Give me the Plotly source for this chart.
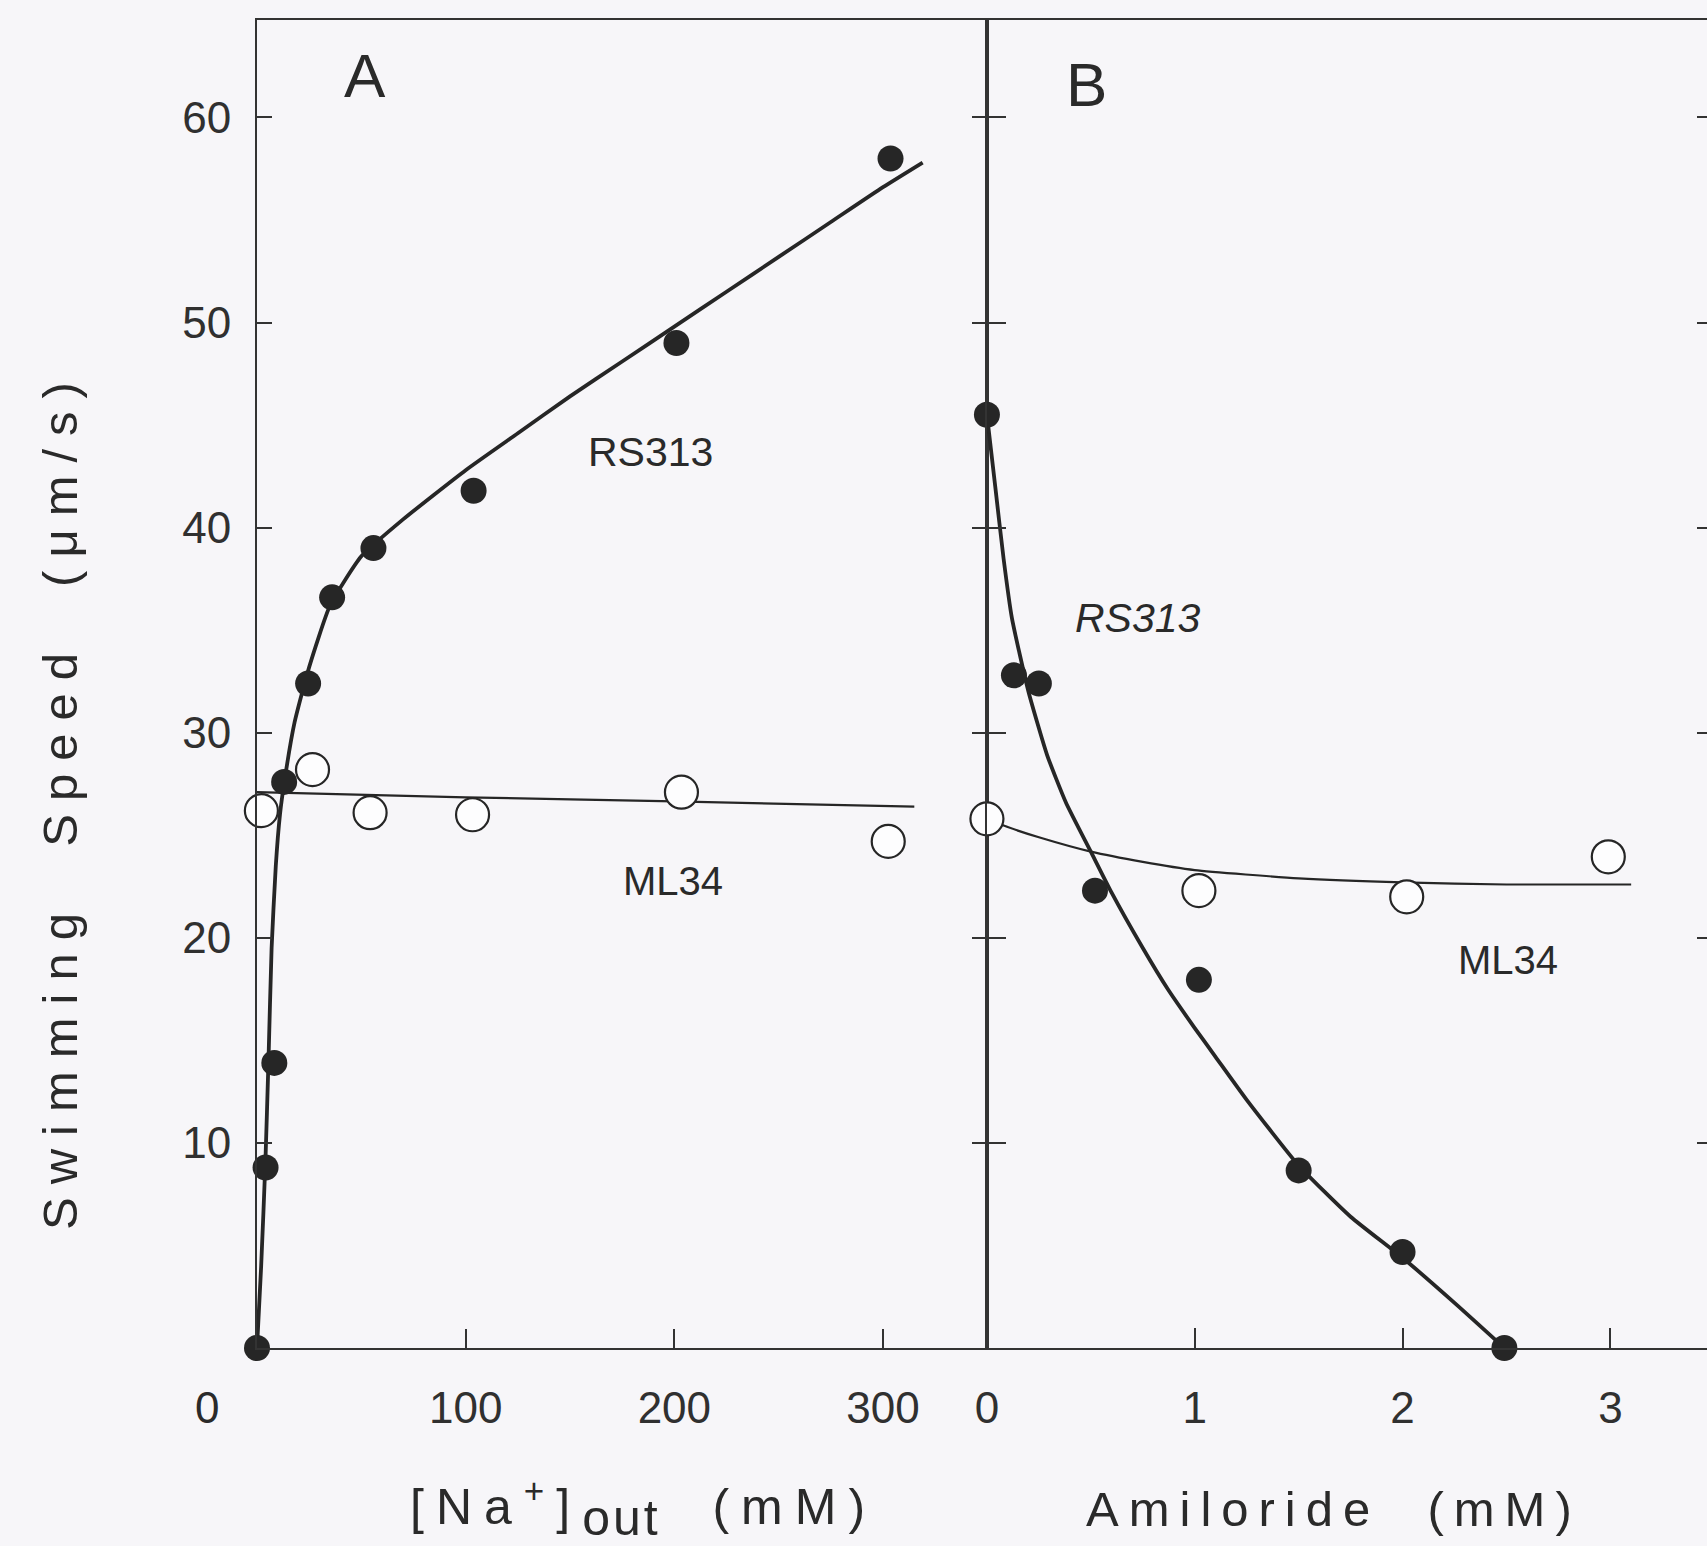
import plotly.graph_objects as go

# ---------------- data ----------------
# Panel A: swimming speed vs external Na+
na_rs313_x = [0, 4.1, 8.3, 13.0, 24.5, 36.0, 55.8, 103.8, 201.0, 303.6]
na_rs313_y = [0, 8.8, 13.9, 27.6, 32.4, 36.6, 39.0, 41.8, 49.0, 58.0]
na_ml34_x = [2.1, 26.6, 54.2, 103.3, 203.4, 302.5]
na_ml34_y = [26.2, 28.2, 26.1, 26.0, 27.1, 24.7]
# fitted curves
na_rs313_fit_x = [0, 2, 4, 5.5, 7, 9, 11, 13.4, 18, 25, 35, 50, 70, 100, 125, 150, 175, 200, 225, 250, 275, 300, 319]
na_rs313_fit_y = [0, 4, 9, 14, 19.5, 23.5, 26, 27.8, 30.5, 33.2, 36.2, 38.6, 40.4, 42.8, 44.6, 46.4, 48.1, 49.8, 51.5, 53.2, 54.9, 56.6, 57.8]
na_ml34_fit_x = [0, 100, 200, 315]
na_ml34_fit_y = [27.1, 26.85, 26.65, 26.4]

# Panel B: swimming speed vs amiloride
am_rs313_x = [0, 0.13, 0.25, 0.52, 1.02, 1.5, 2.0, 2.49]
am_rs313_y = [45.5, 32.8, 32.4, 22.3, 17.95, 8.66, 4.68, 0]
am_ml34_x = [0, 1.02, 2.02, 2.99]
am_ml34_y = [25.8, 22.3, 22.0, 23.95]
am_rs313_fit_x = [0, 0.04, 0.08, 0.12, 0.2, 0.29, 0.38, 0.5, 0.6, 0.75, 0.87, 1.0, 1.1, 1.25, 1.5, 1.75, 2.0, 2.25, 2.49]
am_rs313_fit_y = [45.5, 42, 38.5, 35.6, 32, 28.9, 26.6, 24.2, 22.2, 19.5, 17.5, 15.6, 14.2, 12.1, 8.9, 6.4, 4.4, 2.2, 0]
am_ml34_fit_x = [0, 0.1, 0.25, 0.5, 0.75, 1.0, 1.5, 2.0, 2.5, 3.1]
am_ml34_fit_y = [25.8, 25.4, 24.9, 24.2, 23.7, 23.3, 22.9, 22.7, 22.6, 22.6]

y_ticks = [10, 20, 30, 40, 50, 60]
na_ticks = [100, 200, 300]
am_ticks = [0, 1, 2, 3]

# ---------------- styling ----------------
INK = "#262626"
BG = "#f7f6f9"
FONT = "Liberation Sans, Arial, Helvetica, sans-serif"
TICKFONT = dict(family=FONT, size=44, color="#303030")

fig = go.Figure()

def add_panel(xa, ya, fx, fy, fw, px, py, hollow):
    fig.add_trace(go.Scatter(x=fx, y=fy, mode="lines", xaxis=xa, yaxis=ya,
                             line=dict(color=INK, width=fw, shape="spline", smoothing=0.5),
                             cliponaxis=False, showlegend=False, hoverinfo="skip"))
    if hollow:
        mk = dict(size=33, color="#fdfdfe", line=dict(color=INK, width=2.2))
    else:
        mk = dict(size=26, color=INK, line=dict(color=INK, width=0))
    fig.add_trace(go.Scatter(x=px, y=py, mode="markers", xaxis=xa, yaxis=ya,
                             marker=mk, cliponaxis=False, showlegend=False))

add_panel("x", "y", na_ml34_fit_x, na_ml34_fit_y, 2.2, na_ml34_x, na_ml34_y, True)
add_panel("x", "y", na_rs313_fit_x, na_rs313_fit_y, 3.8, na_rs313_x, na_rs313_y, False)
add_panel("x2", "y2", am_ml34_fit_x, am_ml34_fit_y, 2.2, am_ml34_x, am_ml34_y, True)
add_panel("x2", "y2", am_rs313_fit_x, am_rs313_fit_y, 3.8, am_rs313_x, am_rs313_y, False)

YMAX = 64.75
split = 0.5034
axline = dict(showline=True, linecolor="#333333", linewidth=2, showgrid=False,
              zeroline=False, tickcolor="#333333", tickwidth=2)

fig.update_layout(
    width=1707, height=1546,
    margin=dict(l=257, r=0, t=20, b=198),
    paper_bgcolor=BG, plot_bgcolor=BG,
    xaxis=dict(domain=[0, split], range=[0, 349.8], anchor="y",
               tickvals=na_ticks, ticks="inside", ticklen=19, mirror=True,
               tickfont=TICKFONT, ticklabelstandoff=20, **axline),
    xaxis2=dict(domain=[split, 1], range=[0, 3.465], anchor="y2",
                tickvals=am_ticks, ticks="inside", ticklen=20, mirror=True,
                tickfont=TICKFONT, ticklabelstandoff=20, **axline),
    yaxis=dict(domain=[0, 1], range=[0, YMAX], anchor="x",
               tickvals=y_ticks, ticks="inside", ticklen=15, mirror="ticks",
               tickfont=TICKFONT, ticklabelstandoff=15, **axline),
    yaxis2=dict(domain=[0, 1], range=[0, YMAX], anchor="x2",
                tickvals=y_ticks, ticks="inside", ticklen=19,
                showticklabels=False, **axline),
    yaxis3=dict(range=[0, YMAX], overlaying="y2", anchor="x2", side="right",
                tickvals=y_ticks, ticks="inside", ticklen=10, showline=False,
                showgrid=False, zeroline=False, showticklabels=False,
                tickcolor="#333333", tickwidth=2),
)
# empty trace to activate the right-hand tick axis
fig.add_trace(go.Scatter(x=[None], y=[None], xaxis="x2", yaxis="y3",
                         showlegend=False, hoverinfo="skip"))

def ann(text, x, y, size, xref="paper", yref="paper", angle=0, **kw):
    fig.add_annotation(text=text, x=x, y=y, xref=xref, yref=yref, showarrow=False,
                       textangle=angle, font=dict(family=FONT, size=size, color="#2a2a2a"),
                       xanchor="center", yanchor="middle", **kw)

W, H = 1450.0, 1328.0
def px(xf):
    return (xf - 257) / W
def py(yf):
    return (1348 - yf) / H

# shared origin label
ann("0", 0, 0, 44, xref="x", yref="y", xshift=-50, yshift=-59)
# panel letters
ann("A", px(365), py(76), 62)
ann("B", px(1086), py(84), 62)
# curve labels
ann("RS313", px(650), py(452), 41)
ann("ML34", px(673), py(881), 40)
ann("<i>RS313</i>", px(1138), py(618), 41)
ann("ML34", px(1508), py(960), 40)
# axis titles
ann('<span style="letter-spacing:13px">Swimming  Speed  (μm/s)</span>',
    px(60), py(800), 49, angle=-90)
ann('<span style="letter-spacing:12px">[Na<sup>+</sup>]</span><sub><span style="font-size:50px;letter-spacing:3px">out</span></sub>'
    '<span style="letter-spacing:12px">  (mM)</span>',
    px(643), py(1508), 50)
ann('<span style="letter-spacing:10px">Amiloride  (mM)</span>',
    px(1334), py(1509), 49)

fig.write_html("out.html", config={"displayModeBar": False},
               post_script="document.body.style.margin='0';document.body.style.background='%s';" % BG)
